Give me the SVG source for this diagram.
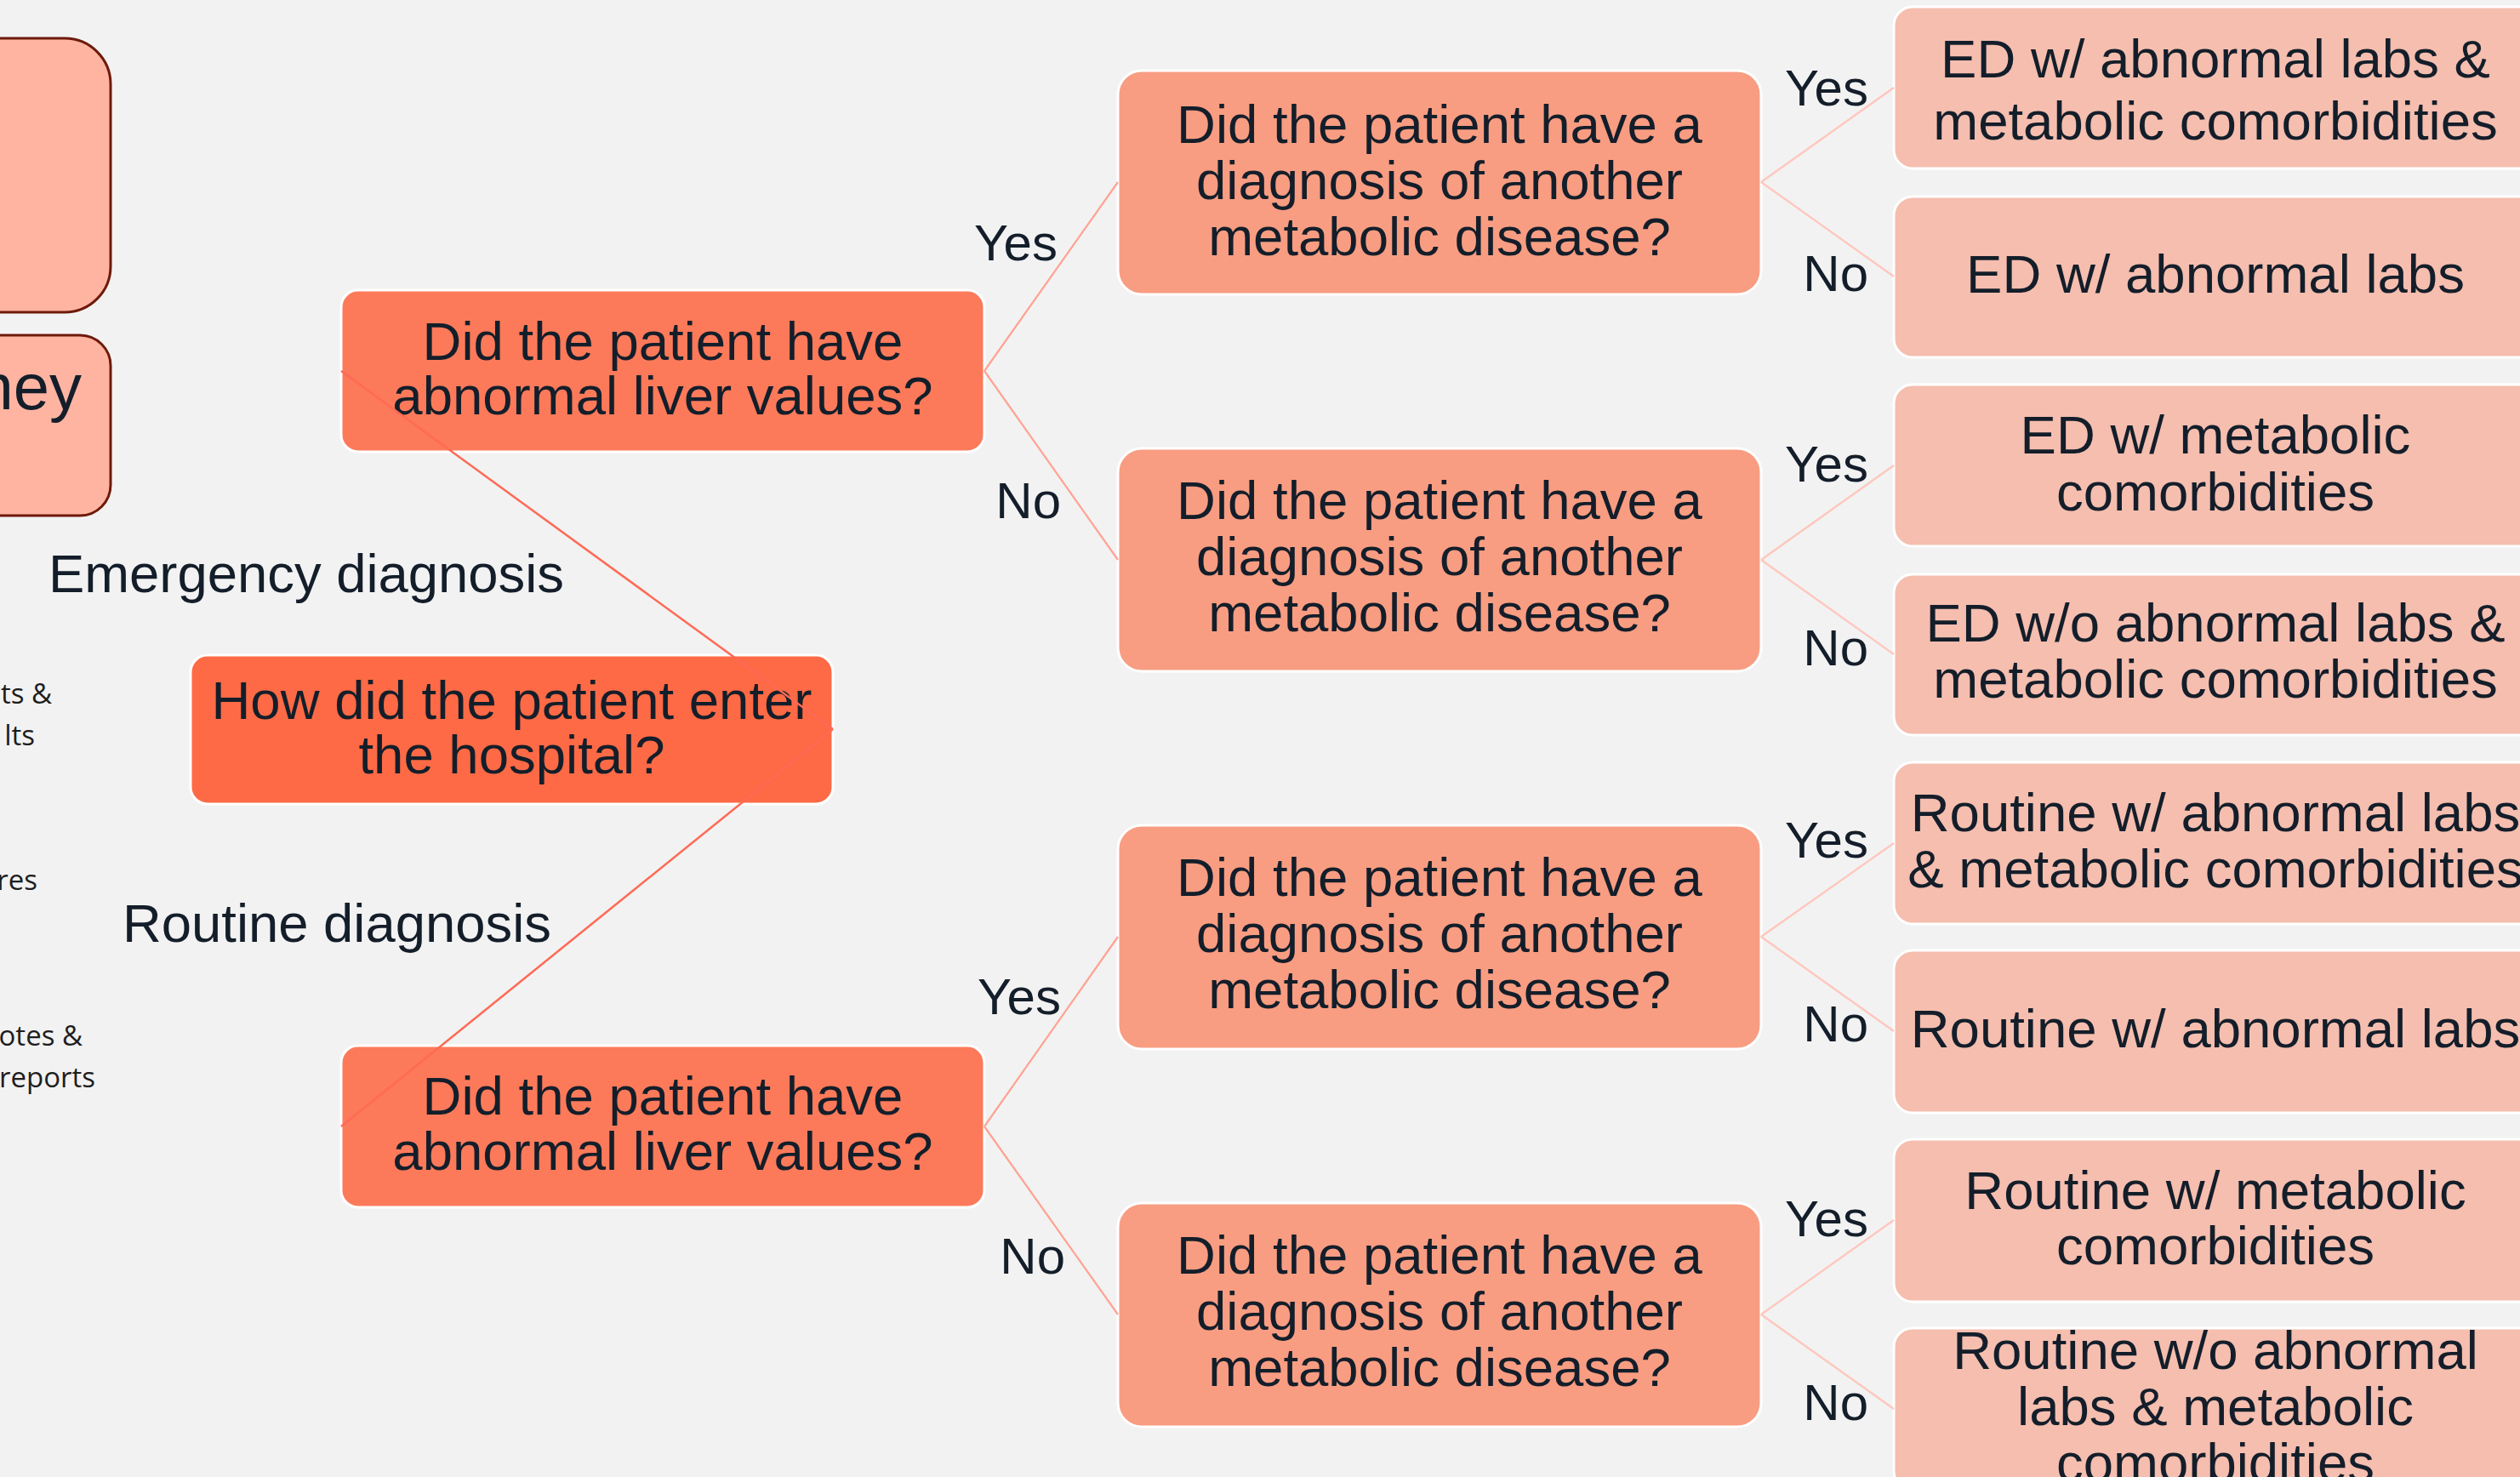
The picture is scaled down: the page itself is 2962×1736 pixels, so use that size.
<svg xmlns="http://www.w3.org/2000/svg" width="2962" height="1736" viewBox="0 0 2962 1736">
<style>
.t{font-family:"Liberation Sans",Arial,sans-serif;font-size:63.5px;fill:#141E2A;text-anchor:middle}
.yn{font-family:"Liberation Sans",Arial,sans-serif;font-size:60px;fill:#141E2A;text-anchor:end}
.lbl{font-family:"Liberation Sans",Arial,sans-serif;fill:#141E2A}
.sm{font-family:"Open Sans","Noto Sans",sans-serif;font-size:33px;fill:#1E1E1E;text-anchor:end}
.side{fill:#FFB4A2;stroke:#6E1A0B;stroke-width:3}
.enter{fill:#FD6A45;stroke:#FFFFFF;stroke-width:3}
.liver{fill:#FC7A5A;stroke:#FFFFFF;stroke-width:3}
.meta{fill:#F89D82;stroke:#FFFFFF;stroke-width:3}
.leaf{fill:#F5BEAF;stroke:#FFFFFF;stroke-width:3}
.c1{stroke:#FF6A55;stroke-width:2.5;fill:none}
.c2{stroke:#FFA293;stroke-width:2.2;fill:none}
.c3{stroke:#FFC6BC;stroke-width:2.2;fill:none}
</style>
<rect x="0" y="0" width="2962" height="1736" fill="#F2F2F2"/>

<g id="side-box-top"><rect class="side" x="-120" y="45" width="250" height="322" rx="54"/></g>
<g id="side-box-journey"><rect class="side" x="-120" y="394" width="250" height="212" rx="36"/>
<text class="lbl" x="96" y="481" font-size="76" text-anchor="end">ney</text></g>

<g id="side-texts">
<text class="sm" x="61" y="827">ts &amp;</text>
<text class="sm" x="41" y="876">lts</text>
<text class="sm" x="44" y="1046">res</text>
<text class="sm" x="97" y="1229">otes &amp;</text>
<text class="sm" x="112" y="1278">reports</text>
</g>

<g id="label-emergency"><text class="lbl" x="57" y="696" font-size="63.4">Emergency diagnosis</text></g>
<g id="label-routine"><text class="lbl" x="144" y="1107" font-size="63.4">Routine diagnosis</text></g>

<g id="node-enter"><rect class="enter" x="224" y="770" width="755" height="175" rx="20"/>
<text class="t" x="601.5" y="845">How did the patient enter</text>
<text class="t" x="601.5" y="909">the hospital?</text></g>

<g id="node-liver-ed"><rect class="liver" x="401" y="341" width="756" height="190" rx="20"/>
<text class="t" x="779" y="423">Did the patient have</text>
<text class="t" x="779" y="487">abnormal liver values?</text></g>

<g id="node-liver-routine"><rect class="liver" x="401" y="1229" width="756" height="190" rx="20"/>
<text class="t" x="779" y="1310">Did the patient have</text>
<text class="t" x="779" y="1375">abnormal liver values?</text></g>

<g id="node-meta-1"><rect class="meta" x="1314" y="83" width="756" height="263" rx="28"/>
<text class="t" x="1692" y="168">Did the patient have a</text>
<text class="t" x="1692" y="234">diagnosis of another</text>
<text class="t" x="1692" y="300">metabolic disease?</text></g>

<g id="node-meta-2"><rect class="meta" x="1314" y="527" width="756" height="262" rx="28"/>
<text class="t" x="1692" y="610">Did the patient have a</text>
<text class="t" x="1692" y="676">diagnosis of another</text>
<text class="t" x="1692" y="742">metabolic disease?</text></g>

<g id="node-meta-3"><rect class="meta" x="1314" y="970" width="756" height="263" rx="28"/>
<text class="t" x="1692" y="1053">Did the patient have a</text>
<text class="t" x="1692" y="1119">diagnosis of another</text>
<text class="t" x="1692" y="1185">metabolic disease?</text></g>

<g id="node-meta-4"><rect class="meta" x="1314" y="1414" width="756" height="263" rx="28"/>
<text class="t" x="1692" y="1497">Did the patient have a</text>
<text class="t" x="1692" y="1563">diagnosis of another</text>
<text class="t" x="1692" y="1629">metabolic disease?</text></g>

<g id="leaf-1"><rect class="leaf" x="2226" y="8" width="756" height="190" rx="22"/>
<text class="t" x="2604" y="91">ED w/ abnormal labs &amp;</text>
<text class="t" x="2604" y="164">metabolic comorbidities</text></g>
<g id="leaf-2"><rect class="leaf" x="2226" y="231" width="756" height="189" rx="22"/>
<text class="t" x="2604" y="344">ED w/ abnormal labs</text></g>
<g id="leaf-3"><rect class="leaf" x="2226" y="452" width="756" height="190" rx="22"/>
<text class="t" x="2604" y="533">ED w/ metabolic</text>
<text class="t" x="2604" y="600">comorbidities</text></g>
<g id="leaf-4"><rect class="leaf" x="2226" y="675" width="756" height="189" rx="22"/>
<text class="t" x="2604" y="754">ED w/o abnormal labs &amp;</text>
<text class="t" x="2604" y="820">metabolic comorbidities</text></g>
<g id="leaf-5"><rect class="leaf" x="2226" y="896" width="756" height="190" rx="22"/>
<text class="t" x="2604" y="977">Routine w/ abnormal labs</text>
<text class="t" x="2604" y="1043">&amp; metabolic comorbidities</text></g>
<g id="leaf-6"><rect class="leaf" x="2226" y="1117" width="756" height="191" rx="22"/>
<text class="t" x="2604" y="1231">Routine w/ abnormal labs</text></g>
<g id="leaf-7"><rect class="leaf" x="2226" y="1339" width="756" height="191" rx="22"/>
<text class="t" x="2604" y="1421">Routine w/ metabolic</text>
<text class="t" x="2604" y="1486">comorbidities</text></g>
<g id="leaf-8"><rect class="leaf" x="2226" y="1561" width="756" height="190" rx="22"/>
<text class="t" x="2604" y="1609">Routine w/o abnormal</text>
<text class="t" x="2604" y="1675">labs &amp; metabolic</text>
<text class="t" x="2604" y="1741">comorbidities</text></g>

<g id="connectors">
<line class="c1" x1="979" y1="857" x2="401" y2="436"/>
<line class="c1" x1="979" y1="857" x2="401" y2="1324"/>
<line class="c2" x1="1157" y1="436" x2="1314" y2="214"/>
<line class="c2" x1="1157" y1="436" x2="1314" y2="658"/>
<line class="c2" x1="1157" y1="1324" x2="1314" y2="1101"/>
<line class="c2" x1="1157" y1="1324" x2="1314" y2="1545"/>
<line class="c3" x1="2070" y1="214" x2="2226" y2="103"/>
<line class="c3" x1="2070" y1="214" x2="2226" y2="325"/>
<line class="c3" x1="2070" y1="658" x2="2226" y2="547"/>
<line class="c3" x1="2070" y1="658" x2="2226" y2="769"/>
<line class="c3" x1="2070" y1="1101" x2="2226" y2="991"/>
<line class="c3" x1="2070" y1="1101" x2="2226" y2="1212"/>
<line class="c3" x1="2070" y1="1545" x2="2226" y2="1434"/>
<line class="c3" x1="2070" y1="1545" x2="2226" y2="1656"/>
</g>

<g id="branch-labels">
<text class="yn" x="1243" y="306">Yes</text>
<text class="yn" x="1247" y="609">No</text>
<text class="yn" x="1247" y="1192">Yes</text>
<text class="yn" x="1252" y="1497">No</text>
<text class="yn" x="2196" y="124">Yes</text>
<text class="yn" x="2196" y="342">No</text>
<text class="yn" x="2196" y="566">Yes</text>
<text class="yn" x="2196" y="782">No</text>
<text class="yn" x="2196" y="1008">Yes</text>
<text class="yn" x="2196" y="1224">No</text>
<text class="yn" x="2196" y="1453">Yes</text>
<text class="yn" x="2196" y="1669">No</text>
</g>
</svg>
